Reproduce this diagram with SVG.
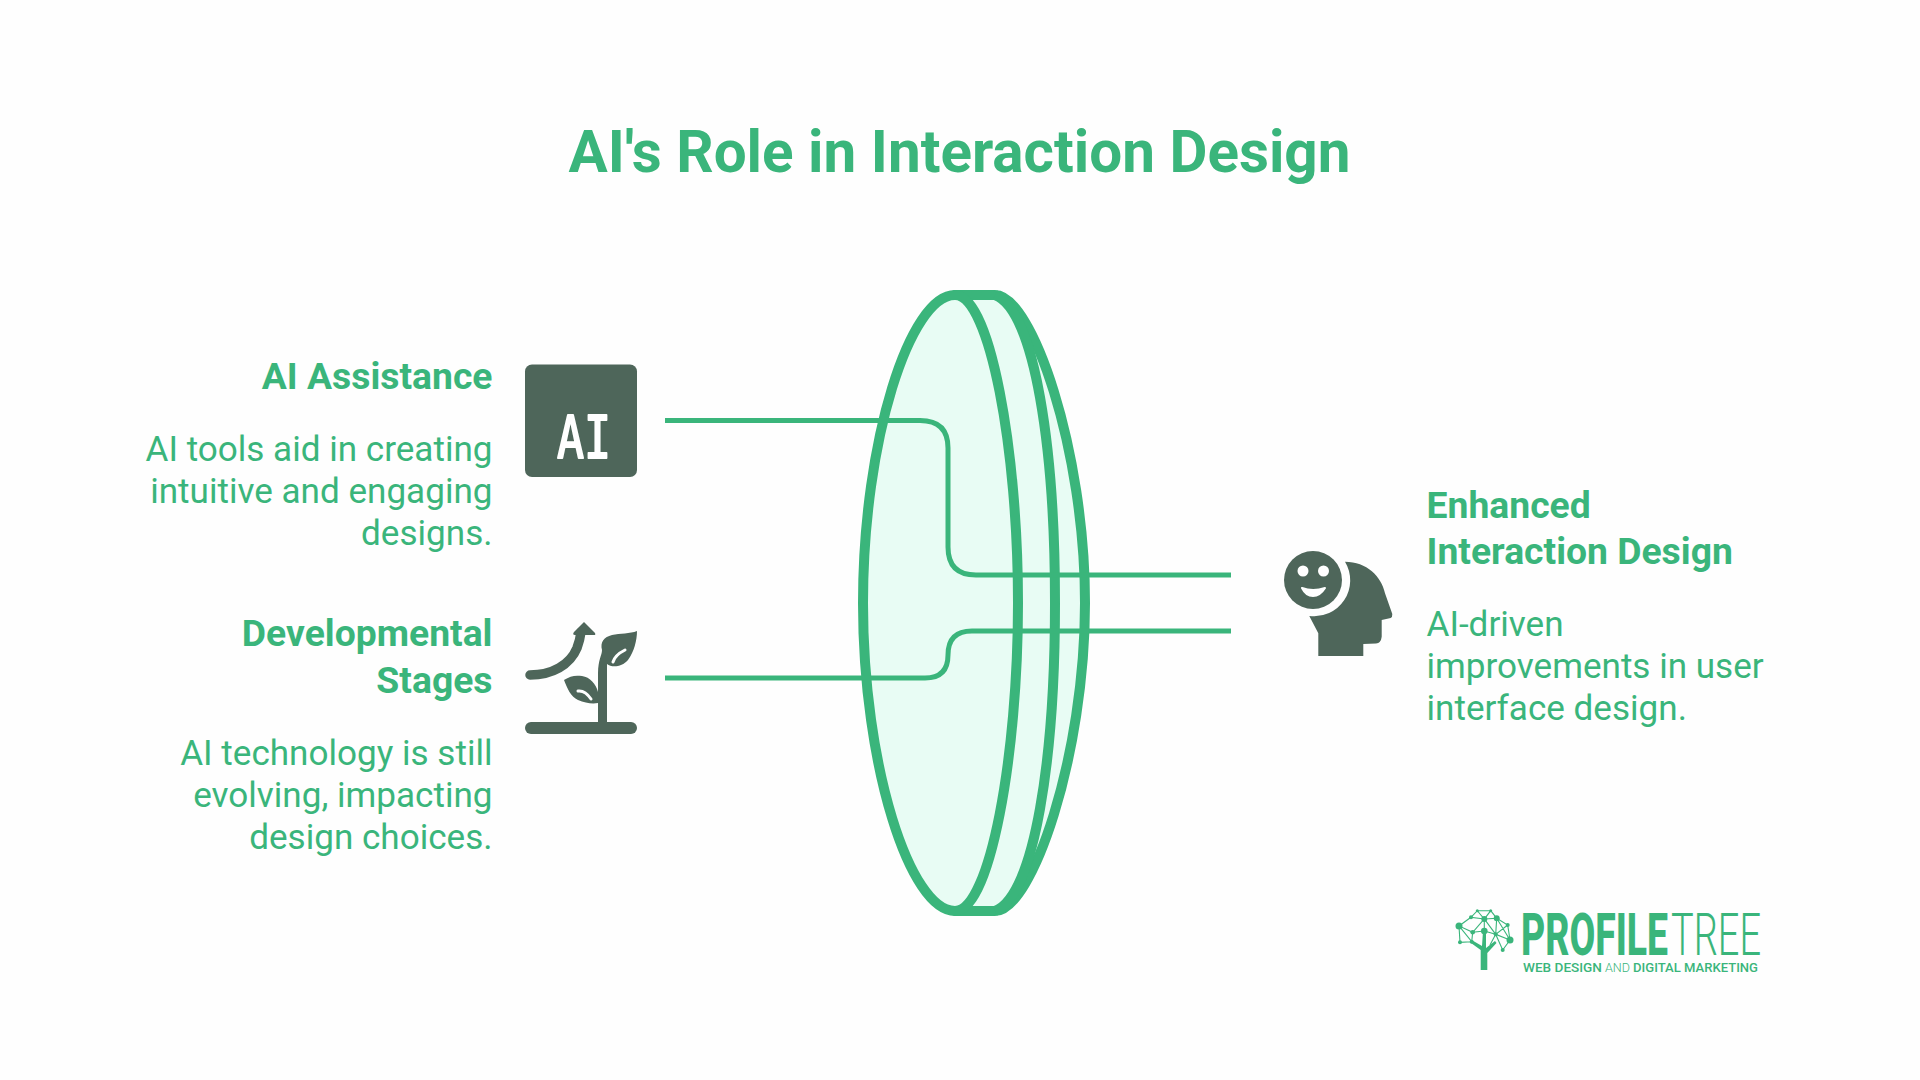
<svg xmlns="http://www.w3.org/2000/svg" width="1920" height="1080" viewBox="0 0 1920 1080">
<style>
text{font-family:"Roboto","Liberation Sans",sans-serif;fill:#3AB57B}
.t{font-size:58.4px;font-weight:700;text-anchor:middle}
.h{font-size:37.300px;font-weight:700}
.b{font-size:35.100px;font-weight:400}
.e{text-anchor:end}
.lens{fill:#E8FCF4;stroke:#3AB57B;stroke-width:10;stroke-linejoin:round}
.c{fill:none;stroke:#3AB57B;stroke-width:5}
.d{fill:#4E665A}
.v{fill:none;stroke:#fff;stroke-width:3;stroke-linecap:round}
.n{stroke:#3AB57B;stroke-width:1.100;fill:none}
.p{fill:#3AB57B}
</style>
<rect width="1920" height="1080" fill="#FEFEFE"/>
<text class="t" x="959.500" y="171.500">AI's Role in Interaction Design</text>
<g id="lens">
<path class="lens" d="M995,295C1032,295 1085,450 1085,603C1085,756 1032,911 995,911H955V295Z"/>
<path class="lens" style="fill:none" d="M995,295C1035,310 1055,450 1055,603C1055,756 1035,896 995,911"/>
<path class="lens" d="M955,295C910,295 863,440 863,603C863,766 910,911 955,911C990,911 1018,756 1018,603C1018,450 990,295 955,295Z"/>
</g>
<g id="connectors">
<path class="c" d="M665,420.500H920Q948,420.500 948,448V547Q948,575 976,575H1231"/>
<path class="c" d="M665,678H925Q948,678 948,655Q948,631 972,631H1231"/>
</g>
<g id="ai-assistance">
<text class="h e" x="492.500" y="389">AI Assistance</text>
<text class="b e" x="492.500" y="460.500">AI tools aid in creating</text>
<text class="b e" x="492.500" y="502.500">intuitive and engaging</text>
<text class="b e" x="492.500" y="544.500">designs.</text>
<rect class="d" x="525" y="364.500" width="112" height="112.500" rx="7"/>
<text x="584" y="458" font-size="58" stroke="#fff" stroke-width="2" stroke-linejoin="round" style="font-family:'DejaVu Sans Mono',monospace;fill:#fff;text-anchor:middle" textLength="54" lengthAdjust="spacingAndGlyphs">AI</text>
</g>
<g id="developmental-stages">
<text class="h e" x="492.500" y="646">Developmental</text>
<text class="h e" x="492.500" y="693">Stages</text>
<text class="b e" x="492.500" y="764.500">AI technology is still</text>
<text class="b e" x="492.500" y="806.500">evolving, impacting</text>
<text class="b e" x="492.500" y="848.500">design choices.</text>
<rect class="d" x="525" y="722" width="112" height="12" rx="6"/>
<path class="d" d="M598,724V673C598,660 602,655 602,650C600,642 604,637 612,635C620,633 630,634 637,631C637,640 634,652 628,660C622,667 612,668 607,664V724Z"/>
<path class="v" d="M613,662Q615,655 625,650"/>
<path class="d" d="M564,680C570,676 575,675 582,676C590,677 596,684 598,692V703C592,704 585,703 578,700C571,697 567,688 564,680Z"/>
<path class="v" d="M578,691Q585,690 591,699"/>
<path d="M530,675C552,675 570,665 577,648Q580,640 581,632" fill="none" stroke="#4E665A" stroke-width="9.500" stroke-linecap="round"/>
<path class="d" d="M584,622L595,633Q596,635 594,635H575Q572,635 574,632Z"/>
</g>
<g id="enhanced-interaction-design">
<text class="h" x="1426.500" y="517.500">Enhanced</text>
<text class="h" x="1426.500" y="564">Interaction Design</text>
<text class="b" x="1426.500" y="635.500">AI-driven</text>
<text class="b" x="1426.500" y="677.500">improvements in user</text>
<text class="b" x="1426.500" y="720">interface design.</text>
<circle class="d" cx="1313" cy="580" r="29"/>
<circle cx="1303" cy="571" r="5.500" fill="#fff"/>
<circle cx="1323.500" cy="571" r="5.500" fill="#fff"/>
<path d="M1302,588Q1313,592 1325,588Q1320,596 1313,596Q1306,596 1302,588Z" fill="#fff" stroke="#fff" stroke-width="2" stroke-linejoin="round"/>
<path class="d" d="M1345,561.700C1366.700,561.700 1381.700,576.700 1385,593.300L1392.300,614Q1392.500,617 1390.700,618L1381.700,620V636.700Q1381,643 1376,643.500L1363.300,644V656H1318.300V633.300L1309.300,616A36,36 0 0 0 1345,561.700Z"/>
</g>
<g id="logo">
<path class="n" d="M1477.300,910.700H1490.700L1484.300,919L1477.300,910.700L1471,917.300L1484.300,919L1496.700,918.300L1490.700,910.700M1496.700,918.300L1507.700,925L1510,940L1496.700,918.300L1495.700,934.300L1510,940L1502.700,950L1495.700,934.300L1507.700,925M1471,917.300L1459,926L1472.700,932.300L1484.300,919L1495.700,934.300L1484.300,931L1472.700,932.300L1471.700,941.700L1459,926L1460,942.300L1471.700,941.700M1484.300,919V931M1495.700,934.300L1490,945"/>
<circle class="p" cx="1477.300" cy="910.700" r="1.500"/><circle class="p" cx="1490.700" cy="910.700" r="1.500"/><circle class="p" cx="1471" cy="917.300" r="2"/><circle class="p" cx="1484.300" cy="919" r="3"/><circle class="p" cx="1496.700" cy="918.300" r="3"/><circle class="p" cx="1507.700" cy="925" r="2"/><circle class="p" cx="1459" cy="926" r="3.500"/><circle class="p" cx="1472.700" cy="932.300" r="2.300"/><circle class="p" cx="1484.300" cy="931" r="3.300"/><circle class="p" cx="1495.700" cy="934.300" r="2"/><circle class="p" cx="1510" cy="940" r="3.500"/><circle class="p" cx="1460" cy="942.300" r="2"/><circle class="p" cx="1471.700" cy="941.700" r="2"/><circle class="p" cx="1502.700" cy="950" r="2"/>
<path class="p" d="M1480.700,970V950L1471,943L1472.500,940.500L1482,946L1483,931H1486L1486,948L1495,941L1496.500,943L1487.300,953V970Z"/>
<text x="1521" y="955" font-size="60" font-weight="800" textLength="147" lengthAdjust="spacingAndGlyphs">PROFILE</text>
<text x="1671" y="955" font-size="60" font-weight="300" textLength="90" lengthAdjust="spacingAndGlyphs">TREE</text>
<text x="1523" y="971.500" font-size="13" font-weight="500" textLength="79" lengthAdjust="spacingAndGlyphs">WEB DESIGN</text>
<text x="1605" y="971.500" font-size="13" font-weight="300" textLength="25" lengthAdjust="spacingAndGlyphs">AND</text>
<text x="1633" y="971.500" font-size="13" font-weight="500" textLength="125" lengthAdjust="spacingAndGlyphs">DIGITAL MARKETING</text>
</g>
</svg>
